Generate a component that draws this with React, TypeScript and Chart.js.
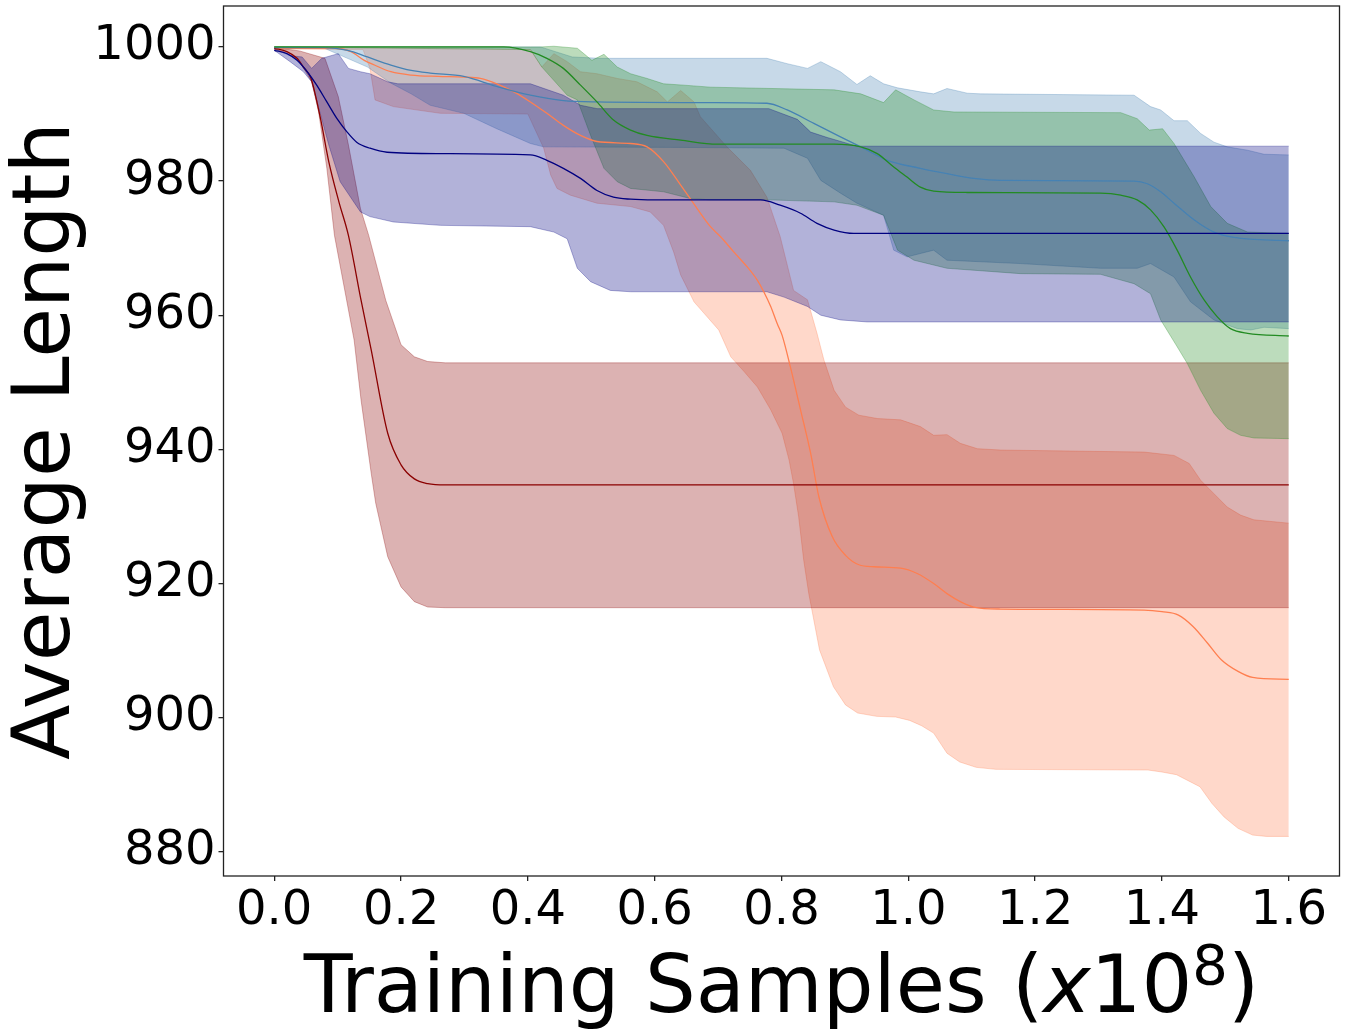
import React, { useEffect, useRef } from 'react';
import { Chart, registerables } from 'chart.js';

Chart.register(...registerables);

// ---------- axis setup ----------
const X_TICKS = [0, 0.2, 0.4, 0.6, 0.8, 1.0, 1.2, 1.4, 1.6];
const Y_TICKS = [880, 900, 920, 940, 960, 980, 1000];
const X_MIN = -0.08;
const X_MAX = 1.68;
const Y_MIN = 876.4;
const Y_MAX = 1006.1;
const Y_TITLE = 'Average Length';
const X_TITLE_MAIN = 'Training Samples (';
const X_TITLE_VAR = 'x';
const X_TITLE_BASE = '10';
const X_TITLE_EXP = '8';
const X_TITLE_END = ')';

// ---------- coral series ----------
const CORAL_MEAN_X = [0, 0.095, 0.121, 0.142, 0.158, 0.184, 0.216, 0.258, 0.299, 0.325, 0.351, 0.378, 0.404, 0.43, 0.456, 0.483, 0.509, 0.562, 0.588, 0.614, 0.641, 0.667, 0.688, 0.704, 0.725, 0.746, 0.762, 0.772, 0.783, 0.793, 0.801, 0.814, 0.83, 0.846, 0.859, 0.88, 0.901, 0.922, 0.946, 0.988, 1.014, 1.04, 1.061, 1.082, 1.103, 1.146, 1.372, 1.4, 1.426, 1.449, 1.472, 1.494, 1.52, 1.543, 1.6];
const CORAL_MEAN_Y = [999.8, 999.8, 999.3, 998.0, 997.3, 996.3, 995.8, 995.6, 995.5, 995.3, 994.5, 993.3, 991.8, 990.1, 988.3, 986.8, 985.9, 985.6, 985.1, 982.9, 979.4, 975.9, 973.2, 971.7, 969.4, 967.2, 965.2, 963.5, 961.3, 958.8, 957.0, 952.3, 945.9, 939.4, 932.9, 927.0, 924.2, 922.8, 922.5, 922.3, 921.5, 920.0, 918.5, 917.3, 916.5, 916.2, 916.05, 915.8, 915.3, 913.6, 911.1, 908.6, 906.9, 906.0, 905.7];
const CORAL_UP_X = [0, 0.404, 0.422, 0.441, 0.462, 0.483, 0.509, 0.541, 0.572, 0.604, 0.62, 0.641, 0.662, 0.672, 0.714, 0.751, 0.777, 0.798, 0.819, 0.841, 0.856, 0.867, 0.883, 0.901, 0.922, 0.951, 0.988, 1.019, 1.04, 1.061, 1.082, 1.109, 1.146, 1.372, 1.419, 1.443, 1.461, 1.482, 1.503, 1.524, 1.545, 1.6];
const CORAL_UP_Y = [1000.0, 999.6, 997.0, 999.0, 997.8, 996.3, 996.0, 995.3, 994.8, 993.3, 991.8, 993.5, 991.8, 989.6, 985.1, 981.6, 977.6, 971.7, 963.7, 962.3, 957.3, 953.3, 948.8, 946.3, 945.1, 944.6, 944.4, 943.4, 942.1, 942.2, 940.9, 940.1, 939.9, 939.6, 939.1, 937.9, 935.4, 933.4, 931.4, 930.2, 929.5, 929.0];
const CORAL_LO_X = [0, 0.14, 0.151, 0.159, 0.188, 0.262, 0.4, 0.425, 0.436, 0.446, 0.467, 0.509, 0.562, 0.593, 0.614, 0.63, 0.641, 0.662, 0.701, 0.72, 0.741, 0.762, 0.783, 0.801, 0.812, 0.819, 0.827, 0.835, 0.843, 0.86, 0.882, 0.901, 0.92, 0.95, 0.98, 1.002, 1.021, 1.04, 1.061, 1.081, 1.107, 1.138, 1.378, 1.4, 1.423, 1.46, 1.479, 1.498, 1.52, 1.543, 1.565, 1.6];
const CORAL_LO_Y = [999.7, 999.6, 996.8, 992.1, 991.1, 990.1, 990.0, 984.9, 980.9, 978.9, 977.9, 976.7, 976.2, 975.4, 973.4, 969.4, 966.0, 962.0, 957.8, 953.8, 951.6, 949.3, 945.9, 942.4, 938.4, 934.9, 930.0, 923.5, 918.5, 910.1, 904.6, 901.9, 900.7, 900.2, 900.1, 899.6, 898.8, 897.7, 894.7, 893.4, 892.6, 892.3, 892.2, 891.9, 891.5, 889.7, 887.2, 885.2, 883.5, 882.5, 882.3, 882.3];

// ---------- dark red series ----------
const DARKRED_MEAN_X = [0, 0.02, 0.036, 0.046, 0.058, 0.073, 0.086, 0.102, 0.117, 0.137, 0.153, 0.179, 0.2, 0.221, 0.242, 0.27, 1.6];
const DARKRED_MEAN_Y = [999.8, 999.3, 998.3, 997.0, 995.3, 989.3, 982.9, 976.9, 971.9, 962.2, 954.8, 942.4, 937.7, 935.6, 934.9, 934.7, 934.7];
const DARKRED_UP_X = [0, 0.04, 0.08, 0.101, 0.117, 0.136, 0.149, 0.176, 0.2, 0.221, 0.242, 0.27, 1.6];
const DARKRED_UP_Y = [999.9, 999.4, 998.3, 992.6, 985.4, 975.9, 971.9, 962.2, 955.6, 953.8, 953.1, 952.9, 952.9];
const DARKRED_LO_X = [0, 0.02, 0.04, 0.059, 0.07, 0.083, 0.095, 0.126, 0.137, 0.153, 0.16, 0.179, 0.2, 0.221, 0.242, 0.27, 1.6];
const DARKRED_LO_Y = [999.7, 999.1, 997.8, 994.8, 990.3, 981.9, 971.9, 956.3, 947.3, 936.4, 932.0, 924.0, 919.5, 917.3, 916.5, 916.4, 916.4];

// ---------- steel blue series ----------
const STEEL_MEAN_X = [0, 0.079, 0.116, 0.147, 0.184, 0.216, 0.246, 0.299, 0.351, 0.404, 0.456, 0.509, 0.688, 0.777, 0.809, 0.851, 0.893, 0.925, 0.967, 1.019, 1.061, 1.103, 1.146, 1.356, 1.377, 1.398, 1.419, 1.451, 1.482, 1.514, 1.6];
const STEEL_MEAN_Y = [999.9, 999.9, 999.5, 998.5, 997.3, 996.5, 996.1, 995.6, 994.1, 992.8, 992.0, 991.8, 991.7, 991.6, 990.6, 988.6, 986.6, 985.1, 983.1, 981.9, 981.1, 980.4, 980.1, 980.0, 979.6, 978.4, 976.7, 974.2, 972.4, 971.6, 971.1];
const STEEL_UP_X = [0, 0.42, 0.47, 0.514, 0.777, 0.809, 0.841, 0.862, 0.893, 0.919, 0.94, 0.961, 0.983, 1.019, 1.04, 1.061, 1.093, 1.114, 1.356, 1.382, 1.398, 1.419, 1.44, 1.461, 1.482, 1.503, 1.535, 1.561, 1.6];
const STEEL_UP_Y = [1000.0, 1000.0, 998.5, 998.3, 998.3, 997.5, 996.8, 997.8, 996.3, 994.4, 995.7, 994.5, 993.9, 993.3, 993.0, 993.8, 993.1, 993.0, 992.8, 991.1, 990.6, 989.0, 989.0, 987.1, 985.8, 985.1, 984.6, 984.0, 983.9];
const STEEL_LO_X = [0, 0.079, 0.147, 0.184, 0.216, 0.246, 0.299, 0.351, 0.404, 0.425, 0.672, 0.804, 0.841, 0.862, 0.893, 0.919, 0.961, 0.977, 0.998, 1.04, 1.061, 1.177, 1.303, 1.361, 1.382, 1.419, 1.445, 1.482, 1.519, 1.54, 1.561, 1.6];
const STEEL_LO_Y = [999.8, 999.8, 997.0, 994.6, 993.0, 991.3, 990.1, 987.8, 985.6, 985.1, 985.0, 984.9, 983.4, 980.1, 978.2, 976.7, 974.9, 969.7, 968.7, 969.7, 968.2, 967.7, 967.0, 967.0, 967.7, 965.7, 962.0, 959.3, 958.0, 957.8, 958.2, 958.0];

// ---------- green series ----------
const GREEN_MEAN_X = [0, 0.342, 0.362, 0.404, 0.43, 0.456, 0.483, 0.509, 0.535, 0.562, 0.588, 0.641, 0.699, 0.883, 0.925, 0.951, 0.977, 0.998, 1.019, 1.04, 1.093, 1.303, 1.335, 1.361, 1.382, 1.403, 1.424, 1.445, 1.467, 1.487, 1.508, 1.535, 1.6];
const GREEN_MEAN_Y = [1000.0, 1000.0, 1000.0, 999.3, 998.3, 996.8, 994.3, 991.8, 989.1, 987.6, 986.8, 986.1, 985.5, 985.5, 985.1, 984.1, 982.1, 980.6, 979.1, 978.5, 978.3, 978.2, 977.9, 977.2, 975.7, 973.2, 969.7, 965.7, 962.2, 959.8, 958.0, 957.3, 956.9];
const GREEN_UP_X = [0, 0.404, 0.42, 0.441, 0.478, 0.501, 0.52, 0.541, 0.562, 0.588, 0.614, 0.646, 0.688, 0.883, 0.925, 0.961, 0.98, 1.009, 1.04, 1.072, 1.335, 1.361, 1.38, 1.401, 1.419, 1.451, 1.477, 1.503, 1.535, 1.6];
const GREEN_UP_Y = [1000.0, 1000.0, 1000.0, 1000.1, 999.8, 998.0, 998.9, 997.0, 996.0, 995.3, 994.5, 994.3, 994.0, 993.6, 993.0, 991.7, 993.6, 992.1, 990.6, 990.3, 990.2, 989.3, 987.6, 987.8, 985.6, 980.6, 976.2, 973.7, 972.4, 972.2];
const GREEN_LO_X = [0, 0.404, 0.422, 0.462, 0.478, 0.499, 0.52, 0.541, 0.562, 0.614, 0.656, 0.688, 0.777, 0.883, 0.919, 0.961, 0.983, 1.009, 1.061, 1.177, 1.303, 1.356, 1.382, 1.398, 1.424, 1.44, 1.461, 1.482, 1.503, 1.524, 1.545, 1.6];
const GREEN_LO_Y = [1000.0, 999.6, 997.0, 992.8, 992.1, 986.8, 981.9, 979.9, 978.9, 978.4, 977.4, 977.2, 977.2, 976.9, 976.4, 974.9, 969.7, 968.2, 967.0, 966.2, 966.1, 964.7, 963.2, 959.3, 955.3, 952.8, 948.8, 945.4, 943.1, 942.1, 941.7, 941.6];

// ---------- navy series ----------
const NAVY_MEAN_X = [0, 0.02, 0.036, 0.052, 0.067, 0.083, 0.099, 0.115, 0.13, 0.151, 0.178, 0.262, 0.404, 0.43, 0.456, 0.483, 0.509, 0.535, 0.562, 0.6, 0.767, 0.798, 0.83, 0.856, 0.883, 0.914, 1.6];
const NAVY_MEAN_Y = [999.5, 999.0, 998.0, 996.3, 994.3, 991.8, 989.3, 987.3, 985.8, 984.9, 984.3, 984.1, 983.9, 983.1, 981.9, 980.4, 978.6, 977.6, 977.3, 977.2, 977.2, 976.4, 975.2, 973.7, 972.7, 972.2, 972.2];
const NAVY_UP_X = [0, 0.025, 0.044, 0.059, 0.075, 0.101, 0.117, 0.136, 0.151, 0.179, 0.195, 0.404, 0.456, 0.483, 0.509, 0.78, 0.825, 0.846, 0.872, 0.919, 1.6];
const NAVY_UP_Y = [999.7, 998.7, 998.5, 996.8, 998.3, 999.0, 996.8, 996.3, 996.0, 994.8, 994.5, 994.5, 992.8, 991.3, 990.8, 990.8, 989.2, 987.3, 986.5, 985.2, 985.2];
const NAVY_LO_X = [0, 0.025, 0.046, 0.059, 0.086, 0.104, 0.136, 0.151, 0.188, 0.262, 0.404, 0.441, 0.462, 0.478, 0.499, 0.53, 0.562, 0.777, 0.804, 0.841, 0.862, 0.893, 0.935, 1.6];
const NAVY_LO_Y = [999.5, 997.8, 996.3, 994.8, 985.4, 979.9, 975.4, 974.7, 973.9, 973.4, 973.2, 972.4, 971.4, 967.0, 965.0, 963.7, 963.5, 963.5, 962.7, 961.3, 960.0, 959.3, 959.0, 959.0];

const SERIES = [
  { label: 'coral', color: '#FF7F50', rgb: '255,127,80', mx: CORAL_MEAN_X, my: CORAL_MEAN_Y, ux: CORAL_UP_X, uy: CORAL_UP_Y, lx: CORAL_LO_X, ly: CORAL_LO_Y },
  { label: 'darkred', color: '#8B0000', rgb: '139,0,0', mx: DARKRED_MEAN_X, my: DARKRED_MEAN_Y, ux: DARKRED_UP_X, uy: DARKRED_UP_Y, lx: DARKRED_LO_X, ly: DARKRED_LO_Y },
  { label: 'steelblue', color: '#4682B4', rgb: '70,130,180', mx: STEEL_MEAN_X, my: STEEL_MEAN_Y, ux: STEEL_UP_X, uy: STEEL_UP_Y, lx: STEEL_LO_X, ly: STEEL_LO_Y },
  { label: 'green', color: '#228B22', rgb: '34,139,34', mx: GREEN_MEAN_X, my: GREEN_MEAN_Y, ux: GREEN_UP_X, uy: GREEN_UP_Y, lx: GREEN_LO_X, ly: GREEN_LO_Y },
  { label: 'navy', color: '#000080', rgb: '0,0,128', mx: NAVY_MEAN_X, my: NAVY_MEAN_Y, ux: NAVY_UP_X, uy: NAVY_UP_Y, lx: NAVY_LO_X, ly: NAVY_LO_Y },
];

const FONT = '"DejaVu Sans", "Liberation Sans", sans-serif';

function pts(xs: number[], ys: number[]) {
  return xs.map((x, i) => ({ x, y: ys[i] }));
}

function buildDatasets() {
  const ds: any[] = [];
  SERIES.forEach((s) => {
    const ui = ds.length;
    ds.push({
      label: s.label + ' upper',
      data: pts(s.ux, s.uy),
      borderColor: `rgba(${s.rgb},0.3)`,
      borderWidth: 1,
      backgroundColor: `rgba(${s.rgb},0.3)`,
      fill: ui + 1,
      pointRadius: 0,
      tension: 0,
    });
    ds.push({
      label: s.label + ' lower',
      data: pts(s.lx, s.ly),
      borderColor: `rgba(${s.rgb},0.3)`,
      borderWidth: 1,
      fill: false,
      pointRadius: 0,
      tension: 0,
    });
  });
  SERIES.forEach((s) => {
    ds.push({
      label: s.label,
      data: pts(s.mx, s.my),
      borderColor: s.color,
      borderWidth: 1.3,
      fill: false,
      pointRadius: 0,
      cubicInterpolationMode: 'monotone',
    });
  });
  const n = ds.length;
  ds.forEach((d, i) => (d.order = n - i));
  return ds;
}

const frameAndTitles = {
  id: 'frameAndTitles',
  afterDraw(chart: any) {
    const { ctx, chartArea: a } = chart;
    ctx.save();
    ctx.strokeStyle = '#222';
    ctx.lineWidth = 1.3;
    ctx.strokeRect(a.left, a.top, a.right - a.left, a.bottom - a.top);

    ctx.fillStyle = '#000';
    // y title
    ctx.save();
    ctx.font = `81px ${FONT}`;
    ctx.translate(68.5, (a.top + a.bottom) / 2);
    ctx.rotate(-Math.PI / 2);
    ctx.textAlign = 'center';
    ctx.textBaseline = 'alphabetic';
    ctx.fillText(Y_TITLE, 0, 0);
    ctx.restore();

    // x title with italic variable and superscript
    const base = a.bottom + 136;
    const parts = [
      { t: X_TITLE_MAIN, f: `80px ${FONT}`, dy: 0 },
      { t: X_TITLE_VAR, f: `italic 80px ${FONT}`, dy: 0 },
      { t: X_TITLE_BASE, f: `80px ${FONT}`, dy: 0 },
      { t: X_TITLE_EXP, f: `56px ${FONT}`, dy: -28 },
      { t: X_TITLE_END, f: `80px ${FONT}`, dy: 0 },
    ];
    let total = 0;
    const widths = parts.map((p) => {
      ctx.font = p.f;
      const w = ctx.measureText(p.t).width;
      total += w;
      return w;
    });
    let x = (a.left + a.right) / 2 - total / 2;
    ctx.textAlign = 'left';
    ctx.textBaseline = 'alphabetic';
    parts.forEach((p, i) => {
      ctx.font = p.f;
      ctx.fillText(p.t, x, base + p.dy);
      x += widths[i];
    });
    ctx.restore();
  },
};

export default function App() {
  const canvasRef = useRef<HTMLCanvasElement | null>(null);

  useEffect(() => {
    if (!canvasRef.current) return;
    const chart = new Chart(canvasRef.current, {
      type: 'line',
      data: { datasets: buildDatasets() },
      options: {
        animation: false,
        responsive: true,
        maintainAspectRatio: false,
        layout: { padding: { left: 0, top: 6, right: 6.5, bottom: 0 } },
        plugins: {
          legend: { display: false },
          tooltip: { enabled: false },
          title: { display: false },
        },
        elements: { point: { radius: 0 } },
        scales: {
          x: {
            type: 'linear',
            min: X_MIN,
            max: X_MAX,
            border: { display: false },
            grid: {
              display: true,
              drawOnChartArea: false,
              drawTicks: true,
              tickLength: 5,
              color: '#222',
              lineWidth: 1.3,
            },
            ticks: {
              autoSkip: false,
              maxRotation: 0,
              minRotation: 0,
              padding: 2,
              color: '#000',
              font: { family: FONT, size: 48 },
              callback: (v: any) => Number(v).toFixed(1),
            },
            afterBuildTicks: (scale: any) => {
              scale.ticks = X_TICKS.map((v) => ({ value: v }));
            },
            afterFit: (scale: any) => {
              scale.height = 160;
              scale.paddingLeft = 0;
              scale.paddingRight = 0;
            },
          },
          y: {
            type: 'linear',
            min: Y_MIN,
            max: Y_MAX,
            border: { display: false },
            grid: {
              display: true,
              drawOnChartArea: false,
              drawTicks: true,
              tickLength: 5,
              color: '#222',
              lineWidth: 1.3,
            },
            ticks: {
              autoSkip: false,
              padding: 3,
              color: '#000',
              font: { family: FONT, size: 48 },
              callback: (v: any) => String(Math.round(Number(v))),
            },
            afterBuildTicks: (scale: any) => {
              scale.ticks = Y_TICKS.map((v) => ({ value: v }));
            },
            afterFit: (scale: any) => {
              scale.width = 223.5;
              scale.paddingTop = 0;
              scale.paddingBottom = 0;
            },
          },
        },
      },
      plugins: [frameAndTitles],
    });
    return () => chart.destroy();
  }, []);

  return (
    <div
      style={{
        position: 'absolute',
        left: 0,
        top: 0,
        width: '1346px',
        height: '1036px',
        background: '#fff',
      }}
    >
      <canvas ref={canvasRef} />
    </div>
  );
}
